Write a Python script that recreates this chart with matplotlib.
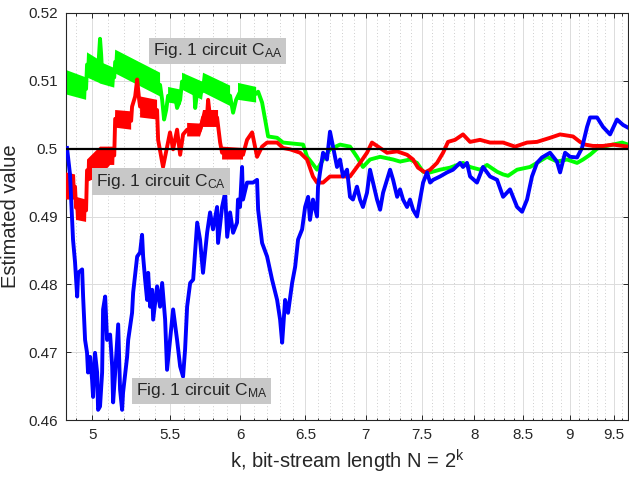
import numpy as np
import matplotlib
matplotlib.use("Agg")
import matplotlib.pyplot as plt
from matplotlib.ticker import FixedLocator, FixedFormatter, NullFormatter

plt.rcParams['font.family'] = ['Liberation Sans', 'DejaVu Sans']
plt.rcParams['mathtext.fontset'] = 'custom'
plt.rcParams['mathtext.rm'] = 'Liberation Sans'
plt.rcParams['mathtext.it'] = 'Liberation Sans:italic'

# x is k = log2(N), y is the running estimate

# circuit C_MA (blue)
ma_k = [4.848, 4.866, 4.884, 4.896, 4.909, 4.915, 4.939, 4.945, 4.957, 4.969,
        4.975, 4.988, 5.000, 5.006, 5.018, 5.031, 5.037, 5.049, 5.062, 5.068,
        5.081, 5.093, 5.112, 5.125, 5.131, 5.144, 5.157, 5.163, 5.175, 5.188,
        5.194, 5.220, 5.227, 5.252, 5.259, 5.272, 5.285, 5.304, 5.317, 5.324,
        5.337, 5.350, 5.357, 5.370, 5.383, 5.390, 5.416, 5.436, 5.450, 5.470,
        5.483, 5.503, 5.524, 5.551, 5.572, 5.592, 5.606, 5.620, 5.641, 5.662,
        5.690, 5.710, 5.731, 5.760, 5.781, 5.802, 5.831, 5.838, 5.867, 5.889,
        5.904, 5.925, 5.947, 5.976, 5.983, 5.998, 6.013, 6.020, 6.050, 6.095,
        6.125, 6.133, 6.163, 6.201, 6.239, 6.278, 6.301, 6.317, 6.340, 6.363,
        6.395, 6.419, 6.442, 6.474, 6.498, 6.522, 6.537, 6.561, 6.594, 6.602,
        6.618, 6.643, 6.675, 6.700, 6.725, 6.758, 6.783, 6.808, 6.842, 6.867,
        6.892, 6.926, 6.952, 6.977, 7.012, 7.038, 7.064, 7.099, 7.126, 7.152,
        7.214, 7.241, 7.277, 7.303, 7.330, 7.366, 7.393, 7.421, 7.457, 7.485,
        7.513, 7.550, 7.578, 7.606, 7.671, 7.738, 7.795, 7.862, 7.891, 7.930,
        7.960, 8.028, 8.088, 8.158, 8.229, 8.290, 8.361, 8.434, 8.486, 8.538,
        8.590, 8.643, 8.696, 8.783, 8.858, 8.892, 8.947, 9.002, 9.080, 9.135,
        9.192, 9.226, 9.306, 9.375, 9.456, 9.537, 9.608, 9.667]
ma_v = [0.5001, 0.4962, 0.4866, 0.4833, 0.4782, 0.4817, 0.4822, 0.4782, 0.4718, 0.4699,
        0.4670, 0.4693, 0.4659, 0.4634, 0.4699, 0.4670, 0.4615, 0.4620, 0.4670, 0.4763,
        0.4782, 0.4718, 0.4726, 0.4679, 0.4626, 0.4670, 0.4718, 0.4741, 0.4645, 0.4615,
        0.4640, 0.4693, 0.4718, 0.4758, 0.4788, 0.4814, 0.4841, 0.4847, 0.4873, 0.4841,
        0.4807, 0.4777, 0.4817, 0.4767, 0.4792, 0.4748, 0.4797, 0.4767, 0.4802, 0.4748,
        0.4674, 0.4718, 0.4763, 0.4718, 0.4679, 0.4664, 0.4704, 0.4767, 0.4802, 0.4807,
        0.4891, 0.4866, 0.4817, 0.4876, 0.4906, 0.4881, 0.4914, 0.4861, 0.4914, 0.4935,
        0.4870, 0.4906, 0.4876, 0.4891, 0.4925, 0.4914, 0.4973, 0.4925, 0.4950, 0.4950,
        0.4954, 0.4910, 0.4861, 0.4841, 0.4807, 0.4777, 0.4748, 0.4714, 0.4777, 0.4758,
        0.4802, 0.4826, 0.4866, 0.4881, 0.4914, 0.4929, 0.4895, 0.4925, 0.4900, 0.4944,
        0.4965, 0.4994, 0.4984, 0.5025, 0.5003, 0.4973, 0.4984, 0.4959, 0.4969, 0.4929,
        0.4925, 0.4944, 0.4925, 0.4914, 0.4935, 0.4969, 0.4950, 0.4925, 0.4910, 0.4935,
        0.4969, 0.4954, 0.4929, 0.4940, 0.4925, 0.4914, 0.4925, 0.4910, 0.4900, 0.4925,
        0.4950, 0.4965, 0.4950, 0.4954, 0.4959, 0.4965, 0.4969, 0.4979, 0.4973, 0.4979,
        0.4959, 0.4950, 0.4973, 0.4959, 0.4954, 0.4929, 0.4940, 0.4914, 0.4907, 0.4925,
        0.4959, 0.4979, 0.4987, 0.4994, 0.4981, 0.4965, 0.4994, 0.4988, 0.4987, 0.5001,
        0.5032, 0.5046, 0.5046, 0.5032, 0.5021, 0.5043, 0.5035, 0.5031]

# circuit C_AA (green)
aa_k = [4.842, 4.963, 4.969, 5.037, 5.043, 5.049, 5.056, 5.062, 5.138, 5.144,
        5.436, 5.450, 5.463, 5.477, 5.490, 5.537, 5.551, 5.572, 5.585, 5.669,
        5.676, 5.690, 5.724, 5.731, 5.925, 5.947, 5.969, 5.998, 6.073, 6.110,
        6.133, 6.163, 6.186, 6.209, 6.278, 6.324, 6.482, 6.514, 6.553, 6.594,
        6.618, 6.643, 6.700, 6.783, 6.867, 6.926, 6.977, 7.038, 7.126, 7.241,
        7.303, 7.393, 7.457, 7.513, 7.578, 7.671, 7.766, 7.891, 7.960, 8.058,
        8.128, 8.229, 8.290, 8.341, 8.434, 8.569, 8.643, 8.750, 8.858, 8.968,
        9.080, 9.147, 9.226, 9.306, 9.375, 9.491, 9.597, 9.667]
aa_v = [0.5099, 0.5088, 0.5124, 0.5115, 0.5139, 0.5162, 0.5139, 0.5111, 0.5105, 0.5128,
        0.5094, 0.5072, 0.5043, 0.5057, 0.5078, 0.5078, 0.5060, 0.5072, 0.5099, 0.5090,
        0.5060, 0.5084, 0.5084, 0.5097, 0.5078, 0.5053, 0.5072, 0.5084, 0.5084, 0.5080,
        0.5084, 0.5068, 0.5043, 0.5018, 0.5016, 0.5009, 0.5006, 0.4988, 0.4979, 0.4969,
        0.4976, 0.4984, 0.4999, 0.5006, 0.5003, 0.4988, 0.4973, 0.4984, 0.4988, 0.4984,
        0.4981, 0.4984, 0.4979, 0.4966, 0.4965, 0.4969, 0.4972, 0.4979, 0.4973, 0.4969,
        0.4976, 0.4966, 0.4962, 0.4960, 0.4969, 0.4973, 0.4979, 0.4988, 0.4981, 0.4984,
        0.4979, 0.4984, 0.4991, 0.5000, 0.5003, 0.5006, 0.5009, 0.5006]
# spread of the green trace at short lengths (top / bottom edge)
aa_band_k = [4.842, 4.963, 4.969, 5.043, 5.049, 5.138, 5.144, 5.436, np.nan,
             5.490, 5.578, np.nan,
             5.585, 5.724, 5.731, 5.925, np.nan,
             5.983, 6.118]
aa_band_hi = [0.5116, 0.5105, 0.5142, 0.5131, 0.5128, 0.5119, 0.5146, 0.5112, np.nan,
              0.5091, 0.5087, np.nan,
              0.5112, 0.5099, 0.5112, 0.5093, np.nan,
              0.5097, 0.5091]
aa_band_lo = [0.5080, 0.5072, 0.5105, 0.5097, 0.5096, 0.5090, 0.5111, 0.5077, np.nan,
              0.5068, 0.5065, np.nan,
              0.5087, 0.5072, 0.5083, 0.5063, np.nan,
              0.5072, 0.5068]

# circuit C_CA (red)
ca_k = [4.842, 4.896, 4.902, 4.963, 4.969, 5.049, 5.112, 5.138, 5.144, 5.246,
        5.252, 5.272, 5.285, 5.298, 5.304, 5.416, 5.423, 5.456, 5.503, 5.524,
        5.551, 5.572, 5.592, 5.620, 5.710, 5.731, 5.760, 5.767, 5.781, 5.831,
        5.853, 5.867, 6.020, 6.050, 6.088, 6.125, 6.163, 6.201, 6.278, 6.324,
        6.379, 6.458, 6.514, 6.561, 6.594, 6.643, 6.700, 6.783, 6.867, 6.952,
        7.012, 7.055, 7.108, 7.187, 7.277, 7.366, 7.421, 7.466, 7.531, 7.578,
        7.643, 7.700, 7.747, 7.814, 7.891, 7.960, 8.058, 8.158, 8.290, 8.413,
        8.538, 8.643, 8.783, 8.892, 9.035, 9.113, 9.170, 9.260, 9.375, 9.491,
        9.667]
ca_v = [0.4944, 0.4944, 0.4913, 0.4909, 0.4968, 0.4981, 0.4990, 0.4990, 0.5044, 0.5041,
        0.5062, 0.5077, 0.5102, 0.5072, 0.5062, 0.5057, 0.5013, 0.4973, 0.5024, 0.4999,
        0.5028, 0.4991, 0.5021, 0.5028, 0.5027, 0.5046, 0.5050, 0.5072, 0.5046, 0.5046,
        0.5009, 0.4994, 0.4991, 0.5013, 0.5024, 0.4988, 0.5003, 0.5009, 0.5009, 0.5001,
        0.4999, 0.4994, 0.4984, 0.4959, 0.4950, 0.4950, 0.4959, 0.4959, 0.4959, 0.4979,
        0.4994, 0.5009, 0.5003, 0.4994, 0.4996, 0.4991, 0.4984, 0.4972, 0.4965, 0.4969,
        0.4979, 0.4994, 0.5010, 0.5013, 0.5021, 0.5010, 0.5013, 0.5009, 0.5009, 0.5003,
        0.5009, 0.5010, 0.5016, 0.5021, 0.5018, 0.5010, 0.5006, 0.5004, 0.5004, 0.5006,
        0.5003]
ca_band_k = [4.842, 4.896, 4.902, 4.963, 4.969, 5.049, 5.112, 5.138, 5.144, 5.246, np.nan,
             5.304, 5.416, np.nan,
             5.620, 5.710, 5.731, 5.838, np.nan,
             5.867, 6.020]
ca_band_hi = [0.4965, 0.4962, 0.4929, 0.4925, 0.4984, 0.5003, 0.5003, 0.5003, 0.5057, 0.5055, np.nan,
              0.5077, 0.5072, np.nan,
              0.5038, 0.5037, 0.5057, 0.5057, np.nan,
              0.5003, 0.5001]
ca_band_lo = [0.4925, 0.4925, 0.4895, 0.4892, 0.4951, 0.4959, 0.4976, 0.4976, 0.5031, 0.5028, np.nan,
              0.5046, 0.5043, np.nan,
              0.5018, 0.5018, 0.5032, 0.5032, np.nan,
              0.4984, 0.4984]

target = 0.5

x_ticks = [5, 5.5, 6, 6.5, 7, 7.5, 8, 8.5, 9, 9.5]
x_labels = ['5', '5.5', '6', '6.5', '7', '7.5', '8', '8.5', '9', '9.5']
y_ticks = [0.46, 0.47, 0.48, 0.49, 0.50, 0.51, 0.52]
y_labels = ['0.46', '0.47', '0.48', '0.49', '0.5', '0.51', '0.52']

labels = [
    (5.39, 0.5144, 'Fig. 1 circuit C$_{\\rm AA}$'),
    (5.025, 0.4952, 'Fig. 1 circuit C$_{\\rm CA}$'),
    (5.276, 0.4643, 'Fig. 1 circuit C$_{\\rm MA}$'),
]

dark = '#262626'
lw = 2.8

fig = plt.figure(figsize=(6.29, 4.8), dpi=100)
ax = fig.add_axes([66 / 629, 60 / 480, 562 / 629, 407 / 480])
ax.set_xscale('log')

ax.fill_between(aa_band_k, aa_band_lo, aa_band_hi, color='#00ff00', lw=0, zorder=2)
ax.plot(aa_k, aa_v, color='#00ff00', lw=lw, zorder=2)
ax.fill_between(ca_band_k, ca_band_lo, ca_band_hi, color='#ff0000', lw=0, zorder=3)
ax.plot(ca_k, ca_v, color='#ff0000', lw=lw, zorder=3)
ax.plot(ma_k, ma_v, color='#0000ff', lw=lw, zorder=4)
ax.axhline(target, color='black', lw=1.6, zorder=5)

for x, y, s in labels:
    ax.text(x, y, s, fontsize=12.5, color=dark, ha='left', va='center', zorder=6,
            bbox=dict(boxstyle='square,pad=0.22', fc='#c8c8c8', ec='none'))

ax.set_xlim(4.842, 9.667)
ax.set_ylim(0.46, 0.52)

ax.xaxis.set_major_locator(FixedLocator(x_ticks))
ax.xaxis.set_major_formatter(FixedFormatter(x_labels))
minor = [m / 10 for m in range(49, 97) if m % 5 != 0]
ax.xaxis.set_minor_locator(FixedLocator(minor))
ax.xaxis.set_minor_formatter(NullFormatter())
ax.yaxis.set_major_locator(FixedLocator(y_ticks))
ax.yaxis.set_major_formatter(FixedFormatter(y_labels))

ax.grid(True, which='major', color='#dcdcdc', lw=0.7, ls='-', zorder=0)
ax.grid(True, which='minor', axis='x', color='#bdbdbd', lw=0.6, ls=(0, (1, 3)), zorder=0)
ax.set_axisbelow(True)

ax.tick_params(which='both', direction='in', top=True, right=True, colors=dark,
               labelsize=11, width=0.7)
ax.tick_params(which='major', length=3.5, pad=6)
ax.tick_params(which='minor', length=1.8)
for sp in ax.spines.values():
    sp.set_color(dark)
    sp.set_linewidth(0.8)

ax.set_xlabel('k, bit-stream length N = 2$^{\\rm k}$', fontsize=14.5, color=dark, labelpad=4)
ax.set_ylabel('Estimated value', fontsize=14.5, color=dark, labelpad=6)

fig.savefig('out.png', dpi=100)
